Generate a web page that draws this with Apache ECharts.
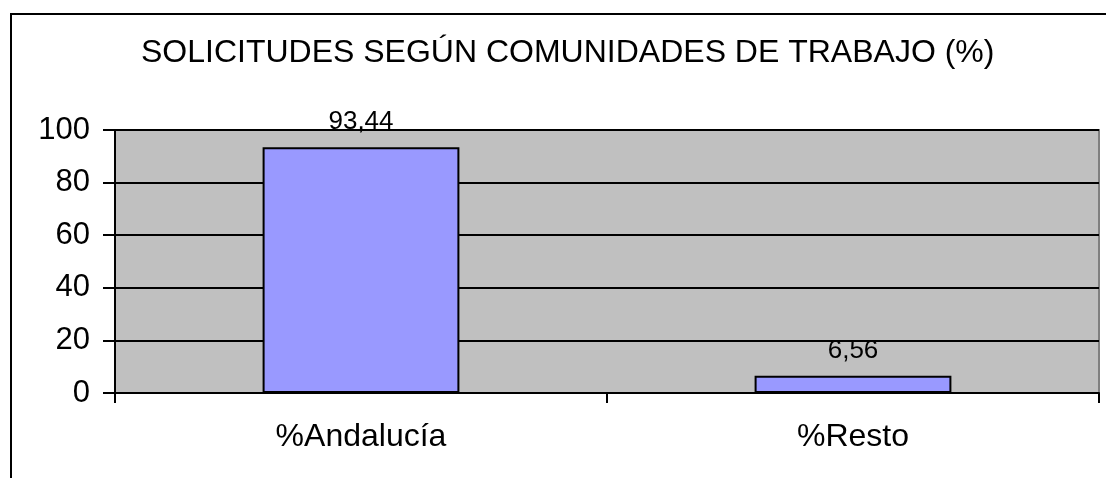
<!DOCTYPE html>
<html>
<head>
<meta charset="utf-8">
<title>Solicitudes</title>
<script src="https://cdn.jsdelivr.net/npm/echarts@6/dist/echarts.min.js"></script>
<style>
    html, body { margin: 0; padding: 0; background: #fff; }
    #chart { width: 1106px; height: 478px; }
</style>
</head>
<body>
<div id="chart"></div>
<script>
const titulo = 'SOLICITUDES SEGÚN COMUNIDADES DE TRABAJO (%)';
const categorias = ['%Andalucía', '%Resto'];
const valores = [93.44, 6.56];
const yMin = 0;
const yMax = 100;
const yPaso = 20;

const fuente = "'Liberation Sans', Arial, sans-serif";

var chart = echarts.init(document.getElementById('chart'));
var option = {
    animation: false,
    title: {
        text: titulo,
        left: 136,
        top: 32,
        textStyle: {
            color: '#000',
            fontWeight: 'normal',
            fontSize: 32,
            fontFamily: fuente
        }
    },
    // marco exterior del gráfico
    graphic: [{
        type: 'rect',
        shape: { x: 11, y: 14, width: 1200, height: 600 },
        style: { fill: 'none', stroke: '#000', lineWidth: 2 },
        silent: true
    }],
    grid: {
        left: 115,
        top: 130,
        right: 7,
        bottom: 85,
        show: true,
        backgroundColor: '#c0c0c0',
        borderColor: '#808080',
        borderWidth: 2
    },
    xAxis: {
        type: 'category',
        data: categorias,
        axisLine: { lineStyle: { color: '#000', width: 2 } },
        axisTick: { show: true, length: 10, lineStyle: { color: '#000', width: 2 } },
        axisLabel: { color: '#000', fontSize: 32, fontFamily: fuente, margin: 28 }
    },
    yAxis: {
        type: 'value',
        min: yMin,
        max: yMax,
        interval: yPaso,
        axisLine: { show: true, lineStyle: { color: '#000', width: 2 } },
        axisTick: { show: true, length: 12, lineStyle: { color: '#000', width: 2 } },
        axisLabel: { color: '#000', fontSize: 31, fontFamily: fuente, margin: 25 },
        splitLine: { lineStyle: { color: '#000', width: 2 } }
    },
    series: [{
        type: 'bar',
        data: valores,
        barWidth: '40%',
        itemStyle: { color: '#9999ff', borderColor: '#000', borderWidth: 2 },
        label: {
            show: true,
            position: 'top',
            distance: 12,
            color: '#000',
            fontSize: 26,
            fontFamily: fuente,
            formatter: (p) => String(p.value).replace('.', ',')
        }
    }]
};
chart.setOption(option);
</script>
</body>
</html>
